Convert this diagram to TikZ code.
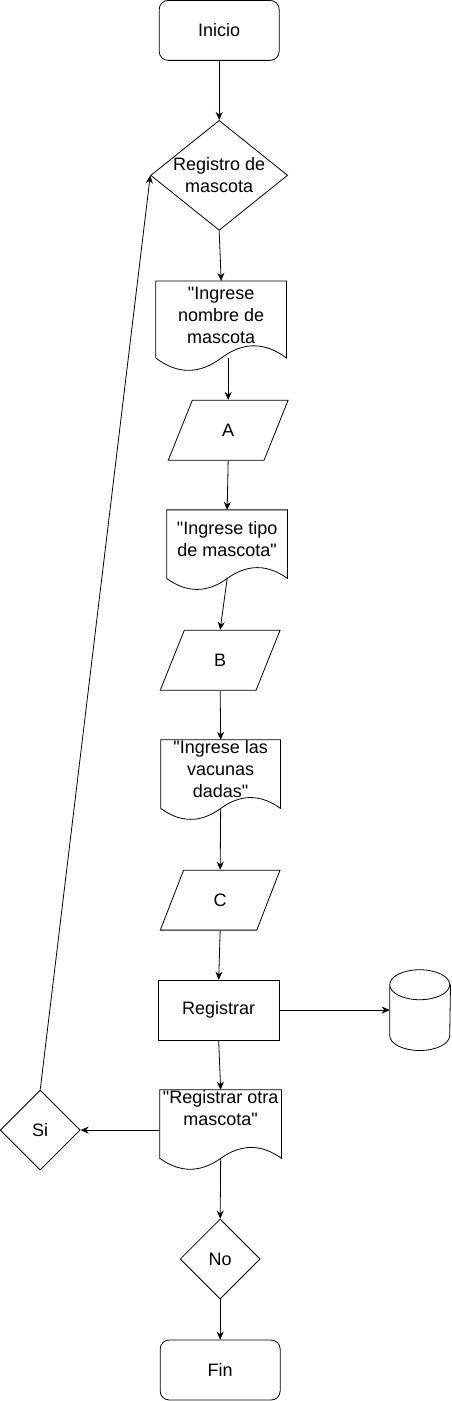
\documentclass[tikz,border=0pt]{standalone}
\usepackage{fontspec}
\setmainfont{Liberation Sans}
\usetikzlibrary{shapes.geometric,arrows.meta,calc}
\tikzset{
 base/.style={draw,line width=0.8pt,font=\fontsize{18}{22}\selectfont,align=center,inner sep=0pt},
 term/.style={base,rounded corners=9pt,minimum width=120pt,minimum height=60pt},
 proc/.style={base,minimum width=121pt,minimum height=60pt},
 dec/.style={base,diamond,aspect=1,minimum width=80pt,minimum height=80pt},
 io/.style={base,trapezium,trapezium left angle=72,trapezium right angle=108,trapezium stretches=true,minimum width=120pt,minimum height=60pt},
 docbox/.style={base,draw=none,minimum width=120pt,minimum height=80pt},
 doctext/.style={font=\fontsize{18}{22}\selectfont,align=center,yshift=11pt},
 store/.style={base,draw=none,minimum width=60pt,minimum height=80pt},
 flow/.style={line width=0.8pt,-{Stealth[length=8pt,width=7pt]}}
}
\newcommand\q{\textquotedbl}
\newcommand\docwave[1]{%
 \draw[line width=0.8pt] let \p1=(#1.south west),\p2=(#1.north east),\n1={\x2-\x1},\n2={\y2-\y1} in
 (\x1,\y2) -- (\x2,\y2) -- (\x2,\y1+0.15*\n2)
 .. controls (\x2-\n1/6,\y1+0.33*\n2) and (\x1+2*\n1/3,\y1+0.33*\n2) .. (\x1+\n1/2,\y1+0.15*\n2)
 .. controls (\x1+\n1/3,\y1-0.03*\n2) and (\x1+\n1/6,\y1-0.03*\n2) .. (\x1,\y1+0.15*\n2) -- cycle
 (\x1+\n1/2,\y1+0.15*\n2) coordinate (#1w);}
\newcommand\drum[1]{%
 \draw[line width=0.8pt] let \p1=(#1.south west),\p2=(#1.north east) in
 (\x1,\y2-15pt) arc[start angle=180,end angle=-180,x radius=30pt,y radius=15pt]
 -- (\x1,\y1+15pt) arc[start angle=180,end angle=360,x radius=30pt,y radius=15pt]
 -- (\x2,\y2-15pt);}
\begin{document}
\begin{tikzpicture}[x=1pt,y=-1pt]
\fill[white] (0,0) rectangle (451,1401);
\node[term] (ini) at (219,30) {Inicio};
\node[dec,minimum width=137pt,minimum height=110pt,label={[doctext,yshift=-11pt]center:{Registro de\\mascota}}] (reg) at (219,175) {};
\node[docbox,minimum width=130pt,minimum height=90pt,label={[doctext]center:{\q Ingrese\\nombre de\\mascota}}] (d1) at (221,326) {};
\node[io] (a) at (228,430) {A};
\node[docbox,label={[doctext]center:{\q Ingrese tipo\\de mascota\q}}] (d2) at (227,550) {};
\node[io] (b) at (220,660) {B};
\node[docbox,minimum width=119pt,label={[doctext]center:{\q Ingrese las\\vacunas\\dadas\q}}] (d3) at (220.5,780) {};
\node[io] (c) at (220,900) {C};
\node[proc] (rgs) at (218.5,1010) {Registrar};
\node[store] (db) at (420,1010) {};
\node[docbox,minimum width=121pt,label={[doctext,yshift=11pt]center:{\q Registrar otra\\mascota\q}}] (d4) at (220.5,1130) {};
\node[dec] (si) at (40,1130) {Si};
\node[dec] (no) at (220,1259) {No};
\node[term] (fin) at (220,1370) {Fin};
\foreach \doc in {d1,d2,d3,d4} \docwave{\doc};
\drum{db}
\foreach \s/\t in {ini/reg,reg/d1,a/d2,b/d3,c/rgs,rgs/d4,no/fin}
 \draw[flow] (\s.south) -- (\t.north);
\draw[flow] (d1w -| a.north) -- (a.north);
\draw[flow] (d2w) -- (b.north);
\draw[flow] (d3w) -- (c.north);
\draw[flow] (d4w) -- (no.north);
\draw[flow] (rgs.east) -- (db.west);
\draw[flow] (d4.west) -- (si.east);
\draw[flow] (si.north) -- (reg.west);
\end{tikzpicture}
\end{document}
